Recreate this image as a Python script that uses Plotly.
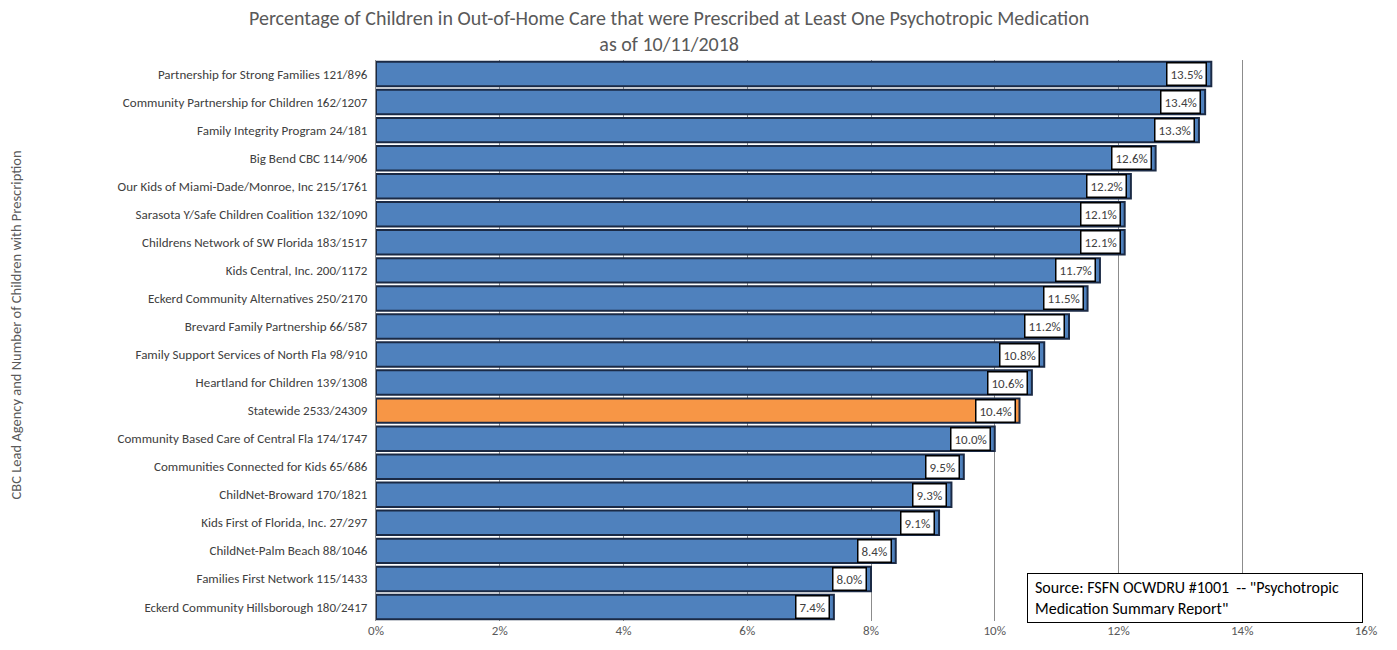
import plotly.graph_objects as go

agencies = [
    "Partnership for Strong Families 121/896",
    "Community Partnership for Children 162/1207",
    "Family Integrity Program 24/181",
    "Big Bend CBC 114/906",
    "Our Kids of Miami-Dade/Monroe, Inc 215/1761",
    "Sarasota Y/Safe Children Coalition 132/1090",
    "Childrens Network of SW Florida 183/1517",
    "Kids Central, Inc. 200/1172",
    "Eckerd Community Alternatives 250/2170",
    "Brevard Family Partnership 66/587",
    "Family Support Services of North Fla 98/910",
    "Heartland for Children 139/1308",
    "Statewide 2533/24309",
    "Community Based Care of Central Fla 174/1747",
    "Communities Connected for Kids 65/686",
    "ChildNet-Broward 170/1821",
    "Kids First of Florida, Inc. 27/297",
    "ChildNet-Palm Beach 88/1046",
    "Families First Network 115/1433",
    "Eckerd Community Hillsborough 180/2417",
]
percentages = [13.5, 13.4, 13.3, 12.6, 12.2, 12.1, 12.1, 11.7, 11.5, 11.2,
               10.8, 10.6, 10.4, 10.0, 9.5, 9.3, 9.1, 8.4, 8.0, 7.4]
x_ticks = [0, 2, 4, 6, 8, 10, 12, 14, 16]
x_tick_labels = ["0%", "2%", "4%", "6%", "8%", "10%", "12%", "14%", "16%"]

FONT = "Calibri, Carlito, 'Open Sans', Arial, sans-serif"

colors = ["#F79646" if a.startswith("Statewide") else "#4F81BD" for a in agencies]

fig = go.Figure()
fig.add_trace(go.Bar(
    y=agencies, x=percentages, orientation="h",
    marker=dict(color=colors, line=dict(color="#1B2A45", width=2)),
    hoverinfo="x+y", showlegend=False,
))

for a, v in zip(agencies, percentages):
    fig.add_annotation(
        x=v, y=a, xref="x", yref="y", text=f"{v:.1f}%",
        xanchor="right", yanchor="middle", xshift=-4, showarrow=False,
        bgcolor="white", bordercolor="black", borderwidth=1.5, borderpad=3,
        font=dict(family=FONT, size=13, color="#404040"),
    )

fig.add_annotation(
    x=0.658, y=-0.004, xref="paper", yref="paper", xanchor="left", yanchor="bottom",
    text='Source: FSFN OCWDRU #1001  -- "Psychotropic<br>Medication Summary Report"',
    align="left", showarrow=False, width=320, height=34,
    bgcolor="white", bordercolor="black", borderwidth=1, borderpad=7,
    font=dict(family=FONT, size=16, color="black"),
)

fig.add_annotation(
    x=-0.3636, y=0.527, xref="paper", yref="paper", xanchor="center", yanchor="middle",
    text="CBC Lead Agency and Number of Children with Prescription",
    textangle=-90, showarrow=False,
    font=dict(family=FONT, size=14.5, color="#595959"),
)

fig.update_layout(
    width=1397, height=650,
    paper_bgcolor="white", plot_bgcolor="white",
    margin=dict(l=376, r=31, t=60, b=25),
    bargap=0.13,
    title=dict(
        text="Percentage of Children in Out-of-Home Care that were Prescribed at Least One Psychotropic Medication<br>as of 10/11/2018",
        x=0.479, xanchor="center", yref="container", y=0.962, yanchor="middle",
        font=dict(family=FONT, size=20, color="#595959"),
    ),
    font=dict(family=FONT, size=13, color="#404040"),
)
fig.update_xaxes(
    range=[0, 16], tickvals=x_ticks, ticktext=x_tick_labels,
    showgrid=True, gridcolor="#8C8C8C", gridwidth=1,
    zeroline=False, showline=False,
    tickfont=dict(family=FONT, size=13, color="#595959"),
)
fig.update_yaxes(
    categoryorder="array", categoryarray=agencies, autorange="reversed",
    showline=True, linecolor="#8C8C8C", linewidth=1, ticks="", ticklen=0,
    ticklabelstandoff=5,
    tickfont=dict(family=FONT, size=13, color="#404040"),
)

fig.write_html("out.html", config={"displayModeBar": False},
               post_script="document.body.style.margin='0px';")
